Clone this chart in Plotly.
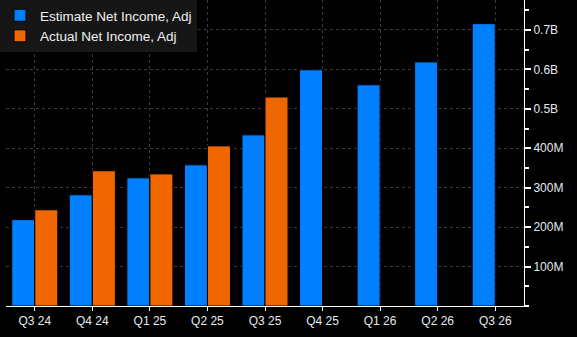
import plotly.graph_objects as go

quarters = ["Q3 24", "Q4 24", "Q1 25", "Q2 25", "Q3 25", "Q4 25", "Q1 26", "Q2 26", "Q3 26"]
estimate = [219e6, 282e6, 325e6, 358e6, 434e6, 599e6, 561e6, 619e6, 716e6]
actual = [244e6, 343e6, 335e6, 406e6, 530e6, None, None, None, None]

y_tickvals = [100e6, 200e6, 300e6, 400e6, 500e6, 600e6, 700e6]
y_ticktext = ["100M", "200M", "300M", "400M", "0.5B", "0.6B", "0.7B"]

FONT = "Liberation Sans, Arial, sans-serif"
TXT = "#e4eaf2"

fig = go.Figure()
fig.add_trace(go.Bar(x=quarters, y=estimate, name="Estimate Net Income, Adj",
                     marker=dict(color="#0080ff", line=dict(width=1, color="#000000"))))
fig.add_trace(go.Bar(x=quarters, y=actual, name="Actual Net Income, Adj",
                     marker=dict(color="#f06600", line=dict(width=1, color="#000000"))))

fig.update_layout(
    width=577, height=337,
    margin=dict(l=5, r=53, t=0, b=31),
    paper_bgcolor="#000000", plot_bgcolor="#000000",
    barmode="group", bargap=0.2, bargroupgap=0.0,
    font=dict(family=FONT, size=12, color=TXT),
    legend=dict(x=-0.012, y=1, xanchor="left", yanchor="top",
                bgcolor="#161616", font=dict(size=13.5, color="#f0f0f0"),
                itemclick=False, tracegroupgap=0),
    xaxis=dict(type="category", showgrid=True, gridcolor="#3a3a3a", griddash="3px,3px",
               showline=True, linecolor="#ffffff", linewidth=1,
               ticks="outside", ticklen=4, tickcolor="#ffffff",
               tickfont=dict(size=12, color=TXT), fixedrange=True),
    yaxis=dict(side="right", range=[0, 776e6], tickmode="array",
               tickvals=y_tickvals, ticktext=y_ticktext,
               showgrid=True, gridcolor="#3a3a3a", griddash="3px,3px",
               zeroline=False,
               showline=True, linecolor="#ffffff", linewidth=1,
               ticks="outside", ticklen=6, tickwidth=2, tickcolor="#ffffff",
               minor=dict(tick0=0, dtick=50e6, ticks="outside", ticklen=4,
                          tickcolor="#ffffff", showgrid=False),
               tickfont=dict(size=12, color=TXT)),
)

fig.write_html("out.html")
